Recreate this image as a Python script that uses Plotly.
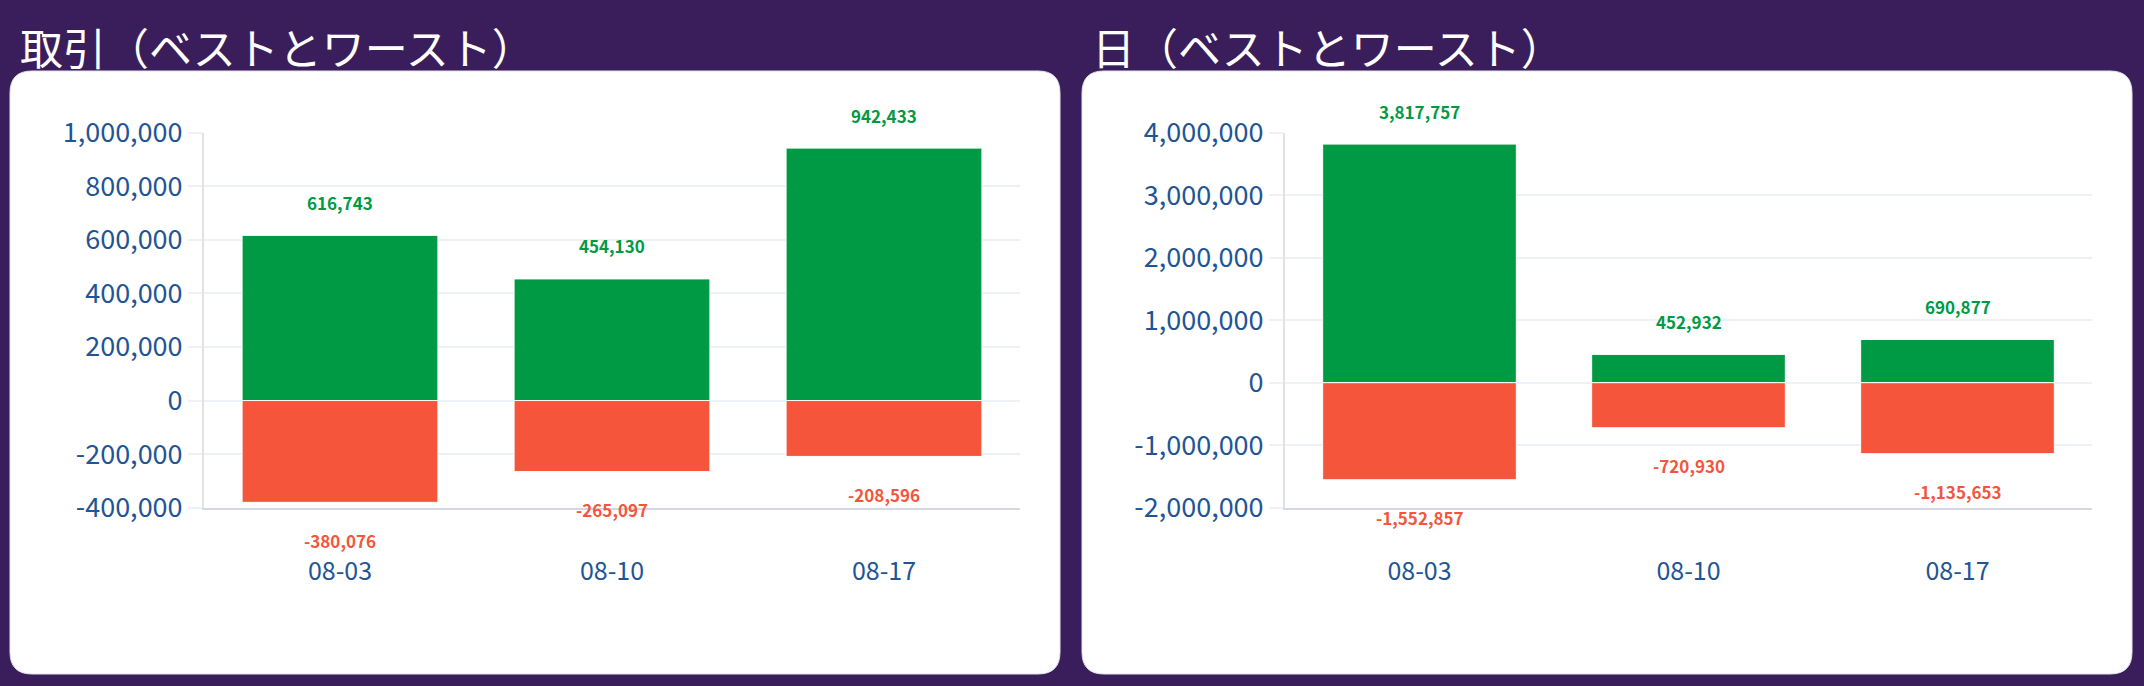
import plotly.graph_objects as go

W, H = 2144, 686
FONT = "Noto Sans CJK JP"

categories = ["08-03", "08-10", "08-17"]

trade_best = [616743, 454130, 942433]
trade_worst = [-380076, -265097, -208596]
day_best = [3817757, 452932, 690877]
day_worst = [-1552857, -720930, -1135653]

trade_ticks = [-400000, -200000, 0, 200000, 400000, 600000, 800000, 1000000]
day_ticks = [-2000000, -1000000, 0, 1000000, 2000000, 3000000, 4000000]

titles = ["取引（ベストとワースト）", "日（ベストとワースト）"]

GREEN = "#009a44"
RED = "#f5553b"
TICK = "#1f5596"
GRID = "#eef1f5"
BG = "#3a1e5c"

fig = go.Figure()

panels = [
    (trade_best, trade_worst, "x", "y"),
    (day_best, day_worst, "x2", "y2"),
]
for best, worst, xa, ya in panels:
    fig.add_trace(go.Bar(x=categories, y=best, xaxis=xa, yaxis=ya,
                         marker=dict(color=GREEN, line=dict(color="white", width=1)),
                         hoverinfo="skip"))
    fig.add_trace(go.Bar(x=categories, y=worst, xaxis=xa, yaxis=ya,
                         marker=dict(color=RED, line=dict(color="white", width=1)),
                         hoverinfo="skip"))
    for c, v in zip(categories, best):
        fig.add_annotation(x=c, y=v, xref=xa, yref=ya, text=f"{v:,}", showarrow=False,
                           yshift=33, font=dict(family=FONT, size=17, color=GREEN, weight=700))
    for c, v in zip(categories, worst):
        fig.add_annotation(x=c, y=v, xref=xa, yref=ya, text=f"{v:,}", showarrow=False,
                           yshift=-38, font=dict(family=FONT, size=17, color=RED, weight=700))


def card(x0, x1, y0, y1, r=22):
    fx0, fx1 = x0 / W, x1 / W
    fy0, fy1 = 1 - y1 / H, 1 - y0 / H
    rx, ry = r / W, r / H
    return (f"M{fx0+rx},{fy1} L{fx1-rx},{fy1} Q{fx1},{fy1} {fx1},{fy1-ry} "
            f"L{fx1},{fy0+ry} Q{fx1},{fy0} {fx1-rx},{fy0} L{fx0+rx},{fy0} "
            f"Q{fx0},{fy0} {fx0},{fy0+ry} L{fx0},{fy1-ry} Q{fx0},{fy1} {fx0+rx},{fy1} Z")


for (x0, x1) in [(10, 1060), (1082, 2132)]:
    fig.add_shape(type="path", path=card(x0, x1, 71, 674), xref="paper", yref="paper",
                  fillcolor="white", line=dict(color="#e3e3ec", width=1), layer="below")

for t, x in zip(titles, [18, 1090]):
    fig.add_annotation(text=t, x=x / W, y=1 - 46 / H, xref="paper", yref="paper",
                       xanchor="left", yanchor="middle", showarrow=False,
                       font=dict(family=FONT, size=43, color="white"))

ydom = [1 - 507.7 / H, 1 - 132.7 / H]

xcommon = dict(type="category", showgrid=False, showline=True, linecolor="#d3d8e2", linewidth=2,
               ticks="", tickfont=dict(family=FONT, size=25, color=TICK), ticklabelstandoff=40,
               automargin=False, fixedrange=True)
ycommon = dict(showgrid=True, gridcolor=GRID, gridwidth=2, zeroline=False, showline=True,
               linecolor="#e4e0e6", linewidth=2, ticks="outside", ticklen=14, tickcolor=GRID,
               tickwidth=2, tickfont=dict(family=FONT, size=27, color=TICK),
               automargin=False, fixedrange=True)

fig.update_layout(
    width=W, height=H, margin=dict(l=0, r=0, t=0, b=0, pad=0, autoexpand=False),
    paper_bgcolor=BG, plot_bgcolor="rgba(0,0,0,0)",
    barmode="relative", bargap=0.28, showlegend=False,
    xaxis=dict(domain=[204 / W, 1020 / W], anchor="y", **xcommon),
    yaxis=dict(domain=ydom, anchor="x", range=[-400000, 1000000],
               tickvals=trade_ticks, ticktext=[f"{v:,}" for v in trade_ticks], **ycommon),
    xaxis2=dict(domain=[1285 / W, 2092 / W], anchor="y2", **xcommon),
    yaxis2=dict(domain=ydom, anchor="x2", range=[-2000000, 4000000],
                tickvals=day_ticks, ticktext=[f"{v:,}" for v in day_ticks], **ycommon),
)

fig.write_html("out.html", config={"displayModeBar": False},
               post_script="document.body.style.margin='0';document.body.style.overflow='hidden';"
                           "document.documentElement.style.overflow='hidden';")
